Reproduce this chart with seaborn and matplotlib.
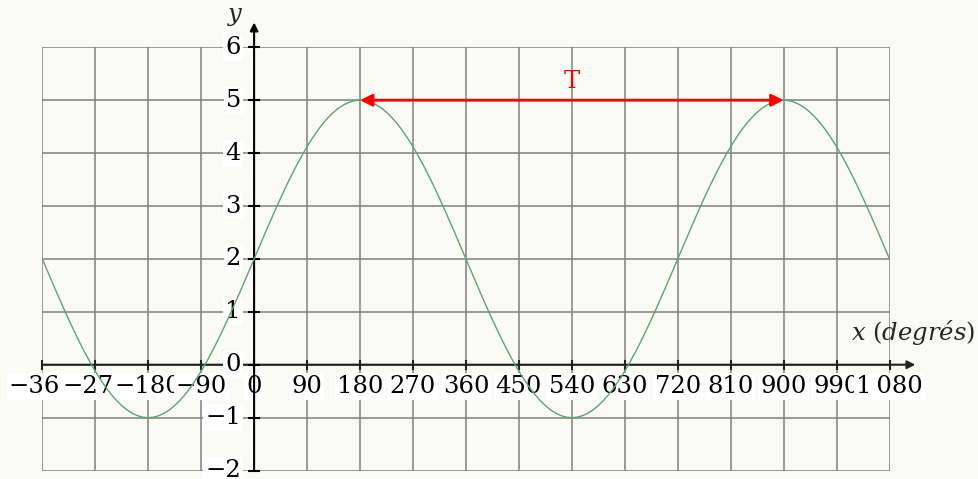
import numpy as np
import pandas as pd
import matplotlib
matplotlib.use("Agg")
import matplotlib.pyplot as plt
import seaborn as sns

# Sinusoid parameters (degrees)
amplitude = 3.0
mean_level = 2.0
period_deg = 720.0
x_start, x_end = -360, 1080

x_ticks = list(range(-360, 1081, 90))
x_tick_labels = ["\u2212360", "\u2212270", "\u2212180", "\u221290", "0", "90", "180",
                 "270", "360", "450", "540", "630", "720", "810", "900", "990",
                 "1\u2009080"]
y_ticks = [-2, -1, 0, 1, 2, 3, 4, 5, 6]
y_tick_labels = ["\u22122", "\u22121", "0", "1", "2", "3", "4", "5", "6"]

peak_first, peak_second = 180, 900
period_label = "T"

xs = np.linspace(x_start, x_end, 1441)
df = pd.DataFrame({"x": xs,
                   "y": mean_level + amplitude * np.sin(2 * np.pi * xs / period_deg)})

sns.set_theme(style="white")
plt.rcParams["font.family"] = ["DejaVu Serif"]
plt.rcParams["mathtext.fontset"] = "dejavuserif"

bg = "#fafbf5"
fig = plt.figure(figsize=(9.79, 4.79), dpi=100, facecolor=bg)
ax = fig.add_axes([0.0432, 0.0177, 0.8654, 0.8835])
ax.set_facecolor(bg)
ax.set_xlim(x_start, x_end)
ax.set_ylim(-2, 6)

ax.set_xticks(x_ticks)
ax.set_yticks(y_ticks)
ax.grid(True, color="#808080", linewidth=1.1)
ax.tick_params(length=0, labelbottom=False, labelleft=False)
for s in ax.spines.values():
    s.set_visible(False)

fs = 17.5

# x axis with arrow
ax.annotate("", xy=(1124, 0), xytext=(x_start, 0),
            arrowprops=dict(arrowstyle="-|>", color="#222222", lw=1.5,
                            mutation_scale=12, shrinkA=0, shrinkB=0),
            annotation_clip=False, zorder=2)
ax.plot(x_ticks, [0] * len(x_ticks), linestyle="none", marker="|",
        markersize=7, markeredgewidth=1.5, color="#222222", zorder=2, clip_on=False)

# x tick labels on white boxes
for xv, lab in zip(x_ticks, x_tick_labels):
    ax.annotate(lab, xy=(xv, 0), xytext=(0, -15.5), textcoords="offset points",
                ha="center", va="center", fontsize=fs, color="black", zorder=3,
                bbox=dict(boxstyle="square,pad=0.08", fc="white", ec="none"),
                annotation_clip=False)

# y axis with arrow
ax.annotate("", xy=(0, 6.47), xytext=(0, -2),
            arrowprops=dict(arrowstyle="-|>", color="black", lw=1.5,
                            mutation_scale=12, shrinkA=0, shrinkB=0),
            annotation_clip=False, zorder=4)
ax.plot([0] * len(y_ticks), y_ticks, linestyle="none", marker="_",
        markersize=8, markeredgewidth=1.5, color="black", zorder=4, clip_on=False)

for yv, lab in zip(y_ticks, y_tick_labels):
    ax.annotate(lab, xy=(0, yv), xytext=(-9.5, 0), textcoords="offset points",
                ha="right", va="center", fontsize=fs, color="black", zorder=5,
                bbox=dict(boxstyle="square,pad=0.08", fc="white", ec="none"),
                annotation_clip=False)

# axis names
ax.text(-32, 6.62, "y", fontsize=fs, style="italic", ha="center", va="center",
        clip_on=False, zorder=5)
ax.text(1226, 0.6, "$x$ ($\\mathit{degrés}$)", fontsize=fs, ha="right", va="center",
        clip_on=False, zorder=5)

# the curve
sns.lineplot(data=df, x="x", y="y", ax=ax, color="#5fa470", linewidth=1.0,
             zorder=6, legend=False)
ax.set_xlabel("")
ax.set_ylabel("")

# period arrow between two maxima
y_peak = mean_level + amplitude
ax.annotate("", xy=(peak_second, y_peak), xytext=(peak_first, y_peak),
            arrowprops=dict(arrowstyle="<|-|>", color="red", lw=2,
                            mutation_scale=18, shrinkA=0, shrinkB=0),
            zorder=7)
ax.text((peak_first + peak_second) / 2, 5.36, period_label, color="red",
        fontsize=fs, ha="center", va="center", zorder=7)

fig.savefig("out.png", dpi=100, facecolor=bg)
